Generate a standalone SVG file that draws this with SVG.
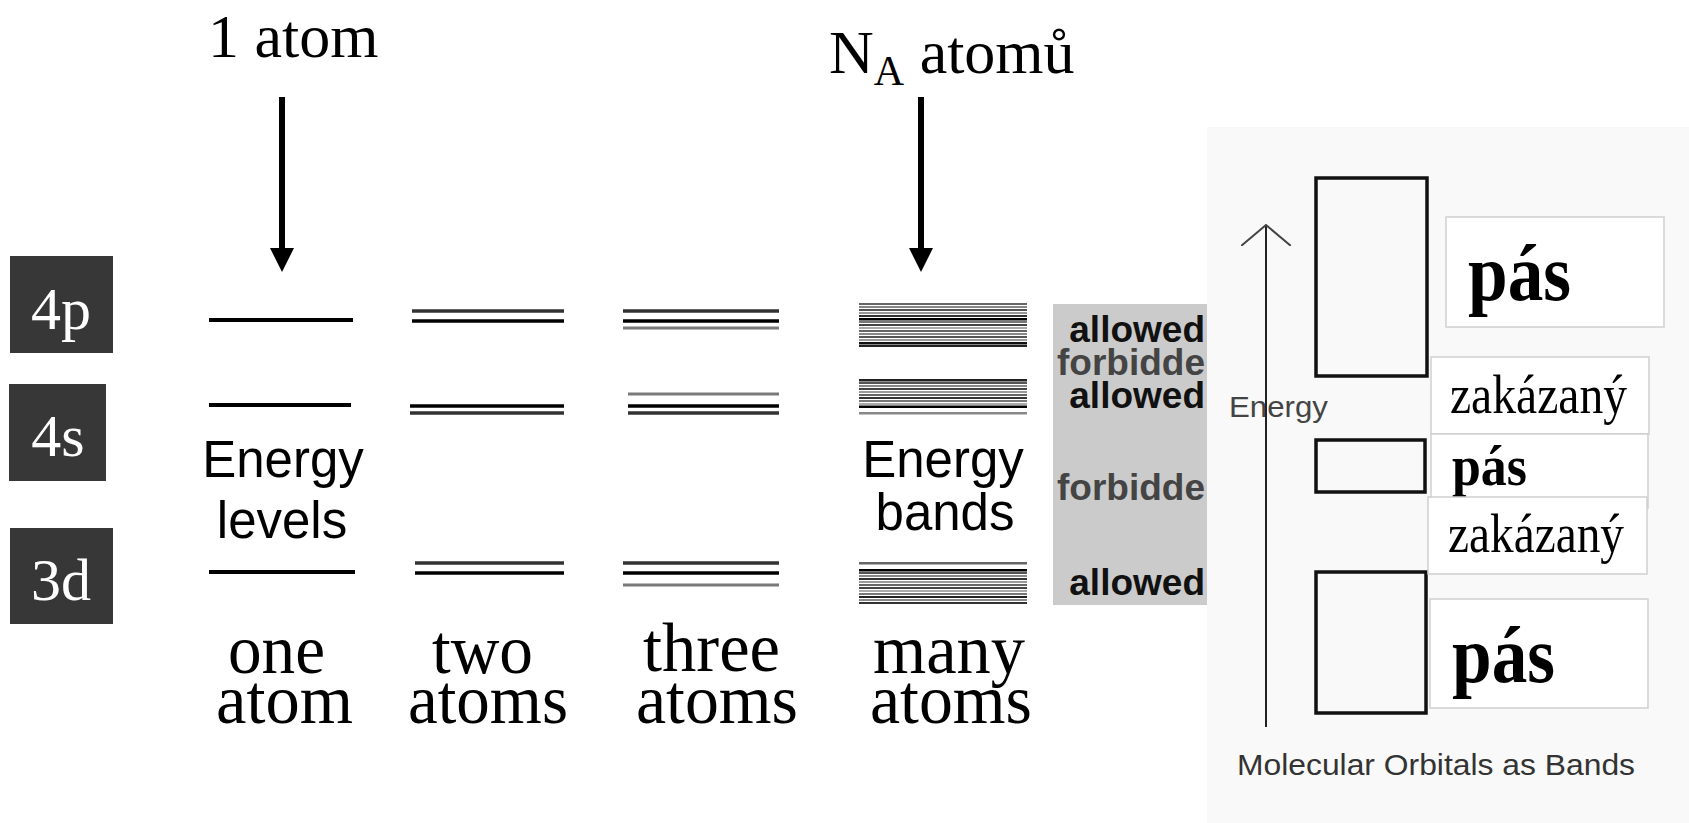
<svg xmlns="http://www.w3.org/2000/svg" width="1689" height="823" viewBox="0 0 1689 823">
<defs>
<style>
.serif{font-family:"Liberation Serif","Times New Roman",serif;}
.sans{font-family:"Liberation Sans",Arial,sans-serif;}
.lbl{fill:#fff;font-size:60px;text-anchor:middle;}
.box{fill:#373737;}
.lvl{stroke:#000;stroke-width:4;}
.d{stroke:#333;stroke-width:3.5;}
.k{stroke:#000;stroke-width:3.5;}
.g{stroke:#7a7a7a;stroke-width:3;}
.bottom{font-size:70px;fill:#000;}
.big{font-size:51px;fill:#000;text-anchor:middle;}
.pan{font-size:37px;font-weight:bold;text-anchor:end;}
.lab{fill:#fff;stroke:#cfcfcf;stroke-width:1.5;}
.band{fill:none;stroke:#111;stroke-width:3.5;}
</style>
<marker id="ah" viewBox="0 0 24 24" markerWidth="24" markerHeight="24" markerUnits="userSpaceOnUse" refX="0" refY="12" orient="auto">
<path d="M0,0 L24,12 L0,24 z" fill="#000"/>
</marker>
<marker id="oh" viewBox="0 0 22 50" markerWidth="22" markerHeight="50" markerUnits="userSpaceOnUse" refX="21" refY="25" orient="auto">
<path d="M0,0 L21,25 L0,50" fill="none" stroke="#444" stroke-width="2"/>
</marker>
</defs>
<rect width="1689" height="823" fill="#fff"/>

<!-- titles -->
<g id="title-1atom">
<text class="serif" x="208" y="57" font-size="62" fill="#000">1 atom</text>
</g>
<g id="title-NA">
<text class="serif" x="829" y="73" font-size="62" fill="#000">N<tspan font-size="42" dy="12">A</tspan><tspan dy="-12"> atomů</tspan></text>
</g>

<!-- orbital labels -->
<g id="label-4p">
<rect class="box" x="10" y="256" width="103" height="97"/>
<text class="serif lbl" x="61" y="329">4p</text>
</g>
<g id="label-4s">
<rect class="box" x="9" y="384" width="97" height="97"/>
<text class="serif lbl" x="58" y="456">4s</text>
</g>
<g id="label-3d">
<rect class="box" x="10" y="528" width="103" height="96"/>
<text class="serif lbl" x="61" y="600">3d</text>
</g>

<!-- one atom -->
<g id="one-atom">
<line class="lvl" x1="209" y1="320" x2="353" y2="320"/>
<line class="lvl" x1="209" y1="405" x2="351" y2="405"/>
<line class="lvl" x1="209" y1="572" x2="355" y2="572"/>
<text class="sans big" x="283" y="477">Energy</text>
<text class="sans big" x="282" y="538">levels</text>
<text class="serif bottom" x="228" y="673" textLength="97" lengthAdjust="spacingAndGlyphs">one</text>
<text class="serif bottom" x="216" y="723" textLength="137" lengthAdjust="spacingAndGlyphs">atom</text>
</g>

<!-- two atoms -->
<g id="two-atoms">
<line class="d" x1="412" y1="311" x2="564" y2="311"/>
<line class="k" x1="412" y1="321" x2="564" y2="321"/>
<line class="k" x1="410" y1="406" x2="564" y2="406"/>
<line class="d" x1="410" y1="413" x2="564" y2="413"/>
<line class="d" x1="415" y1="563" x2="564" y2="563"/>
<line class="k" x1="415" y1="573" x2="564" y2="573"/>
<text class="serif bottom" x="432" y="673" textLength="101" lengthAdjust="spacingAndGlyphs">two</text>
<text class="serif bottom" x="408" y="723" textLength="160" lengthAdjust="spacingAndGlyphs">atoms</text>
</g>

<!-- three atoms -->
<g id="three-atoms">
<line class="d" x1="623" y1="311" x2="779" y2="311"/>
<line class="k" x1="623" y1="321" x2="779" y2="321"/>
<line class="g" x1="623" y1="328" x2="779" y2="328"/>
<line class="g" x1="628" y1="394" x2="779" y2="394"/>
<line class="k" x1="628" y1="406" x2="779" y2="406"/>
<line class="d" x1="628" y1="413" x2="779" y2="413"/>
<line class="d" x1="623" y1="563" x2="779" y2="563"/>
<line class="k" x1="623" y1="573" x2="779" y2="573"/>
<line class="g" x1="623" y1="585" x2="779" y2="585"/>
<text class="serif bottom" x="643" y="671" textLength="137" lengthAdjust="spacingAndGlyphs">three</text>
<text class="serif bottom" x="636" y="723" textLength="162" lengthAdjust="spacingAndGlyphs">atoms</text>
</g>

<!-- many atoms -->
<g id="many-atoms">
<g id="band-4p">
<rect x="859" y="303" width="168" height="2" fill="#666"/>
<rect x="859" y="306" width="168" height="2" fill="#888"/>
<rect x="859" y="309" width="168" height="2" fill="#555"/>
<rect x="859" y="312" width="168" height="2" fill="#999"/>
<rect x="859" y="315" width="168" height="2" fill="#333"/>
<rect x="859" y="318" width="168" height="2.5" fill="#000"/>
<rect x="859" y="321" width="168" height="2" fill="#777"/>
<rect x="859" y="324" width="168" height="2" fill="#444"/>
<rect x="859" y="327" width="168" height="2" fill="#aaa"/>
<rect x="859" y="330" width="168" height="2" fill="#666"/>
<rect x="859" y="333" width="168" height="2" fill="#888"/>
<rect x="859" y="336" width="168" height="2" fill="#555"/>
<rect x="859" y="339" width="168" height="2" fill="#999"/>
<rect x="859" y="342" width="168" height="2.5" fill="#111"/>
<rect x="859" y="345" width="168" height="2" fill="#222"/>
</g>
<g id="band-4s">
<rect x="859" y="379" width="168" height="2.5" fill="#222"/>
<rect x="859" y="382" width="168" height="2" fill="#555"/>
<rect x="859" y="385" width="168" height="2" fill="#888"/>
<rect x="859" y="388" width="168" height="2" fill="#444"/>
<rect x="859" y="391" width="168" height="2" fill="#999"/>
<rect x="859" y="394" width="168" height="2" fill="#666"/>
<rect x="859" y="397" width="168" height="2" fill="#333"/>
<rect x="859" y="400" width="168" height="2" fill="#777"/>
<rect x="859" y="403" width="168" height="2" fill="#aaa"/>
<rect x="859" y="405.5" width="168" height="2.5" fill="#000"/>
<rect x="859" y="412" width="168" height="2.5" fill="#888"/>
</g>
<g id="band-3d">
<rect x="859" y="562" width="168" height="2.5" fill="#666"/>
<rect x="859" y="569" width="168" height="2.5" fill="#000"/>
<rect x="859" y="572" width="168" height="2" fill="#555"/>
<rect x="859" y="575" width="168" height="2" fill="#888"/>
<rect x="859" y="578" width="168" height="2" fill="#333"/>
<rect x="859" y="581" width="168" height="2" fill="#999"/>
<rect x="859" y="584" width="168" height="2" fill="#666"/>
<rect x="859" y="587" width="168" height="2" fill="#444"/>
<rect x="859" y="590" width="168" height="2" fill="#aaa"/>
<rect x="859" y="593" width="168" height="2" fill="#777"/>
<rect x="859" y="596" width="168" height="2" fill="#222"/>
<rect x="859" y="599" width="168" height="2" fill="#888"/>
<rect x="859" y="602" width="168" height="2" fill="#333"/>
</g>
<text class="sans big" x="943" y="477">Energy</text>
<text class="sans big" x="945" y="530">bands</text>
<text class="serif bottom" x="873" y="673" textLength="152" lengthAdjust="spacingAndGlyphs">many</text>
<text class="serif bottom" x="870" y="723" textLength="162" lengthAdjust="spacingAndGlyphs">atoms</text>
</g>

<!-- grey allowed/forbidden panel -->
<g id="allowed-panel">
<rect x="1053" y="304" width="160" height="301" fill="#cbcbcb"/>
<text class="sans pan" x="1205" y="342" fill="#111">allowed</text>
<text class="sans pan" x="1205" y="375" fill="#444">forbidde</text>
<text class="sans pan" x="1205" y="408" fill="#111">allowed</text>
<text class="sans pan" x="1205" y="500" fill="#444">forbidde</text>
<text class="sans pan" x="1205" y="595" fill="#111">allowed</text>
</g>

<!-- right panel -->
<g id="mo-panel">
<rect x="1207" y="127" width="482" height="696" fill="#f9f9f9"/>
<text class="sans" x="1229" y="417" font-size="30" fill="#444" textLength="99" lengthAdjust="spacingAndGlyphs">Energy</text>
<text class="sans" x="1237" y="775" font-size="30" fill="#333" textLength="398" lengthAdjust="spacingAndGlyphs">Molecular Orbitals as Bands</text>
</g>
<g id="band-box-top"><rect class="band" x="1316" y="178" width="111" height="198"/></g>
<g id="band-box-mid"><rect class="band" x="1316" y="440" width="109" height="52"/></g>
<g id="band-box-bottom"><rect class="band" x="1316" y="572" width="110" height="141"/></g>

<g id="label-pas-1">
<rect class="lab" x="1446" y="217" width="218" height="110"/>
<text class="serif" x="1468" y="300" font-size="80" font-weight="bold" textLength="103" lengthAdjust="spacingAndGlyphs">pás</text>
</g>
<g id="label-zak-1">
<rect class="lab" x="1431" y="357" width="218" height="77"/>
<text class="serif" x="1450" y="413" font-size="55" textLength="177" lengthAdjust="spacingAndGlyphs">zakázaný</text>
</g>
<g id="label-pas-2">
<rect class="lab" x="1431" y="434" width="217" height="74"/>
<text class="serif" x="1452" y="485" font-size="58" font-weight="bold" textLength="75" lengthAdjust="spacingAndGlyphs">pás</text>
</g>
<g id="label-zak-2">
<rect class="lab" x="1428" y="497" width="219" height="77"/>
<text class="serif" x="1448" y="552" font-size="55" textLength="176" lengthAdjust="spacingAndGlyphs">zakázaný</text>
</g>
<g id="label-pas-3">
<rect class="lab" x="1430" y="599" width="218" height="109"/>
<text class="serif" x="1452" y="682" font-size="80" font-weight="bold" textLength="103" lengthAdjust="spacingAndGlyphs">pás</text>
</g>

<!-- connectors -->
<g id="connectors">
<line x1="282" y1="97" x2="282" y2="248" stroke="#000" stroke-width="6" marker-end="url(#ah)"/>
<line x1="921" y1="97" x2="921" y2="248" stroke="#000" stroke-width="6" marker-end="url(#ah)"/>
<line x1="1266" y1="727" x2="1266" y2="225" stroke="#222" stroke-width="2" marker-end="url(#oh)"/>
</g>
</svg>
